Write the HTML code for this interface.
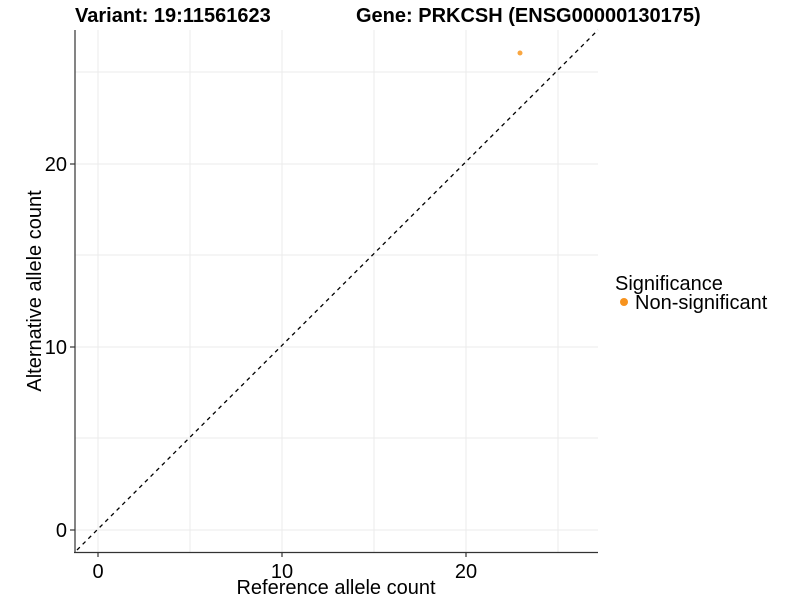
<!DOCTYPE html>
<html><head><style>body{margin:0;background:#fff}svg{display:block}text{font-family:"Liberation Sans",Arial,sans-serif}</style></head>
<body>
<svg width="800" height="600" xmlns="http://www.w3.org/2000/svg">
<g stroke="#ebebeb" stroke-width="1">
<line x1="98" y1="30" x2="98" y2="552"/><line x1="282" y1="30" x2="282" y2="552"/><line x1="466" y1="30" x2="466" y2="552"/>
<line x1="190" y1="30" x2="190" y2="552"/><line x1="374" y1="30" x2="374" y2="552"/><line x1="558" y1="30" x2="558" y2="552"/>
<line x1="75" y1="530" x2="598" y2="530"/><line x1="75" y1="347" x2="598" y2="347"/><line x1="75" y1="164" x2="598" y2="164"/>
<line x1="75" y1="438" x2="598" y2="438"/><line x1="75" y1="255" x2="598" y2="255"/><line x1="75" y1="72" x2="598" y2="72"/>
</g>
<line x1="77" y1="550" x2="598" y2="30" stroke="#000" stroke-width="1.3" stroke-dasharray="4,4"/>
<circle cx="520" cy="53" r="2.5" fill="#f9a640"/>
<g stroke="#333" stroke-width="1.2">
<line x1="75" y1="30" x2="75" y2="553"/><line x1="74" y1="552.5" x2="598" y2="552.5"/>
<line x1="98" y1="553" x2="98" y2="557"/><line x1="282" y1="553" x2="282" y2="557"/><line x1="466" y1="553" x2="466" y2="557"/>
<line x1="70" y1="530" x2="75" y2="530"/><line x1="70" y1="347" x2="75" y2="347"/><line x1="70" y1="164" x2="75" y2="164"/>
</g>
<g font-size="20" fill="#000">
<text x="98" y="578" text-anchor="middle">0</text>
<text x="282" y="578" text-anchor="middle">10</text>
<text x="466" y="578" text-anchor="middle">20</text>
<text x="67" y="537" text-anchor="end">0</text>
<text x="67" y="354" text-anchor="end">10</text>
<text x="67" y="171" text-anchor="end">20</text>
<text x="336" y="594" text-anchor="middle">Reference allele count</text>
<text transform="translate(41,291) rotate(-90)" text-anchor="middle">Alternative allele count</text>
<text x="615" y="290">Significance</text>
<text x="635" y="309">Non-significant</text>
</g>
<circle cx="624" cy="302" r="4" fill="#f7931e"/>
<text x="75" y="22" font-size="20" font-weight="bold">Variant: 19:11561623</text>
<text x="356" y="22" font-size="20" font-weight="bold">Gene: PRKCSH (ENSG00000130175)</text>
</svg>
</body></html>
